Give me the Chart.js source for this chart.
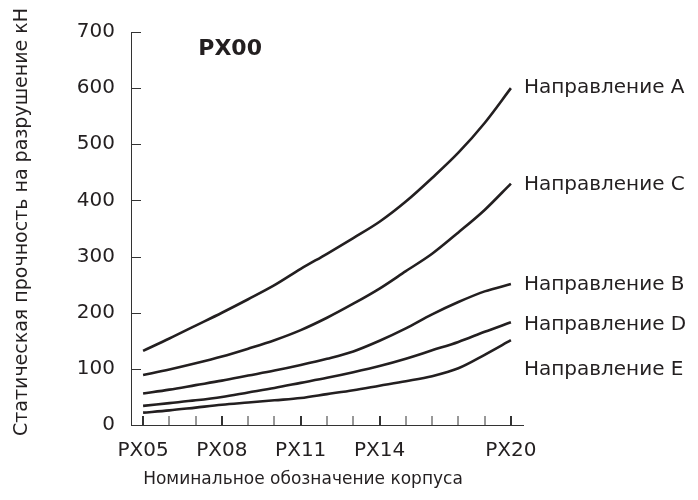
<!DOCTYPE html>
<html>
<head>
<meta charset="utf-8">
<script src="https://cdn.jsdelivr.net/npm/chart.js@4.4.1/dist/chart.umd.min.js"></script>
<style>
  html, body { margin: 0; padding: 0; background: #fff; }
</style>
</head>
<body>
<canvas id="myChart" width="698" height="500"></canvas>
<script>
// подписи корпусов по оси X (пустые - только штрих)
const sizeLabels = ['PX05', '', '', 'PX08', '', '', 'PX11', '', '', 'PX14', '', '', '', '', 'PX20'];

// статическая прочность, кН
const dirA = [132, 154, 177, 200, 224, 249, 278, 305, 333, 362, 398, 440, 485, 538, 600];
const dirC = [89, 99, 110, 122, 136, 151, 169, 191, 216, 243, 274, 305, 343, 383, 430];
const dirB = [56, 63, 71, 79, 88, 97, 107, 118, 131, 150, 172, 197, 219, 238, 251];
const dirD = [34, 39, 44, 50, 58, 66, 75, 84, 94, 105, 118, 133, 148, 166, 183];
const dirE = [22, 26, 31, 36, 40, 44, 48, 55, 62, 70, 78, 87, 101, 125, 151];

const seriesNames = ['Направление A', 'Направление C', 'Направление B', 'Направление D', 'Направление E'];
const seriesValues = [dirA, dirC, dirB, dirD, dirE];

const ink = '#231f20';
const fontFamily = '"DejaVu Sans", Arial, sans-serif';

// штрихи внутрь области графика
const insideTicks = {
    id: 'insideTicks',
    afterDraw(chart) {
        const { ctx, scales: { x, y } } = chart;
        const y0 = y.getPixelForValue(0);
        const left = chart.chartArea.left;
        ctx.save();
        ctx.strokeStyle = '#333';
        sizeLabels.forEach((lab, i) => {
            const px = Math.round(x.getPixelForValue(i));
            ctx.lineWidth = lab ? 2 : 1;
            ctx.beginPath();
            ctx.moveTo(px, y0);
            ctx.lineTo(px, y0 - 9);
            ctx.stroke();
        });
        ctx.lineWidth = 1;
        y.ticks.forEach(t => {
            const py = Math.round(y.getPixelForValue(t.value)) + 0.5;
            ctx.beginPath();
            ctx.moveTo(left, py);
            ctx.lineTo(left + 10, py);
            ctx.stroke();
        });
        ctx.restore();
    }
};

// подписи направлений у концов кривых
const curveLabels = {
    id: 'curveLabels',
    afterDatasetsDraw(chart, args, opts) {
        const { ctx } = chart;
        ctx.save();
        ctx.font = '20px ' + fontFamily;
        ctx.fillStyle = ink;
        ctx.textAlign = 'left';
        ctx.textBaseline = 'middle';
        chart.data.datasets.forEach((ds, i) => {
            const pts = chart.getDatasetMeta(i).data;
            const last = pts[pts.length - 1];
            ctx.fillText(ds.label, last.x + opts.dx, last.y + opts.dy[i]);
        });
        ctx.restore();
    }
};

// заголовок PX00 и названия осей
const textBlocks = {
    id: 'textBlocks',
    afterDraw(chart) {
        const { ctx, chartArea, scales: { x, y } } = chart;
        ctx.save();
        ctx.fillStyle = ink;

        ctx.font = 'bold 22px ' + fontFamily;
        ctx.textAlign = 'left';
        ctx.textBaseline = 'middle';
        ctx.fillText('PX00', x.getPixelForValue(2.1), y.getPixelForValue(669));

        ctx.font = '17px ' + fontFamily;
        ctx.textAlign = 'center';
        ctx.fillText('Номинальное обозначение корпуса', chartArea.left + 172, 480);

        ctx.font = '19px ' + fontFamily;
        ctx.translate(22, 222);
        ctx.rotate(-Math.PI / 2);
        ctx.fillText('Статическая прочность на разрушение кН', 0, 0);
        ctx.restore();
    }
};

const ctx = document.getElementById('myChart').getContext('2d');

new Chart(ctx, {
    type: 'line',
    data: {
        datasets: seriesValues.map((vals, i) => ({
            label: seriesNames[i],
            data: vals.map((v, k) => ({ x: k, y: v })),
            borderColor: ink,
            borderWidth: 2.6,
            pointRadius: 0,
            fill: false,
            cubicInterpolationMode: 'monotone'
        }))
    },
    options: {
        responsive: false,
        animation: false,
        devicePixelRatio: 1,
        layout: { padding: { top: 32, right: 175, left: 0, bottom: 0 } },
        plugins: {
            legend: { display: false },
            tooltip: { enabled: false },
            curveLabels: { dx: 13, dy: [0, 1, 1, 3, 30] }
        },
        scales: {
            x: {
                type: 'linear',
                min: -0.46,
                max: 14.46,
                afterBuildTicks: scale => {
                    scale.ticks = sizeLabels.map((_, i) => ({ value: i }));
                },
                afterFit: scale => { scale.height = 75; },
                grid: { display: false, drawTicks: false },
                border: { display: true, color: '#333', width: 1 },
                ticks: {
                    autoSkip: false,
                    maxRotation: 0,
                    padding: 14,
                    color: ink,
                    font: { family: fontFamily, size: 20 },
                    callback: value => sizeLabels[value] || ''
                }
            },
            y: {
                min: 0,
                max: 700,
                afterFit: scale => { scale.width = 131; },
                grid: { display: false, drawTicks: false },
                border: { display: true, color: '#333', width: 1 },
                ticks: {
                    stepSize: 100,
                    padding: 16,
                    color: ink,
                    font: { family: fontFamily, size: 20 }
                }
            }
        }
    },
    plugins: [insideTicks, curveLabels, textBlocks]
});
</script>
</body>
</html>
